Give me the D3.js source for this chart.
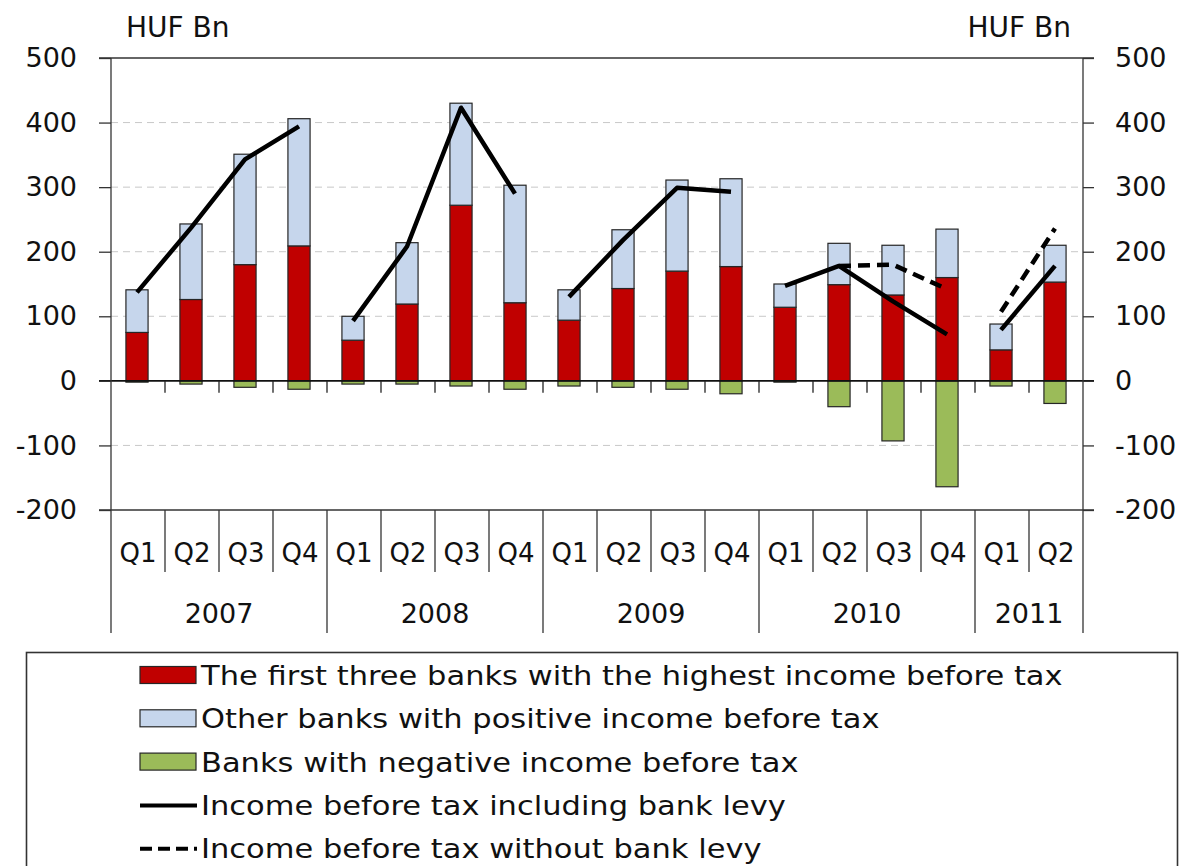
<!DOCTYPE html>
<html>
<head>
<meta charset="utf-8">
<script src="https://cdn.jsdelivr.net/npm/d3@7"></script>
<style>
  html, body { margin: 0; padding: 0; background: #fff; }
  svg { display: block; font-family: "DejaVu Sans", Verdana, sans-serif; }
</style>
</head>
<body>
<svg id="chart" width="1184" height="866"></svg>
<script>
// Quarterly income before tax of the banking sector, HUF Bn
const years = ["2007", "2008", "2009", "2010", "2011"];
const quarterYear = ["2007","2007","2007","2007","2008","2008","2008","2008",
                     "2009","2009","2009","2009","2010","2010","2010","2010",
                     "2011","2011"];
const quarterLabel = ["Q1","Q2","Q3","Q4","Q1","Q2","Q3","Q4",
                      "Q1","Q2","Q3","Q4","Q1","Q2","Q3","Q4",
                      "Q1","Q2"];

// Stacked bar components
const topThreeBanks   = [75, 126, 180, 209,  63, 119, 272, 121,  94, 143, 170, 177, 114, 149, 133, 160,  48, 153];
const otherPositive   = [66, 117, 171, 197,  37,  95, 158, 182,  47,  91, 141, 136,  36,  64,  77,  75,  40,  57];
const negativeBanks   = [-2,  -5, -10, -13,  -5,  -5,  -8, -13,  -8, -10, -13, -20,  -2, -40, -93, -164, -8, -35];

// Lines (drawn per year)
const incomeWithLevy    = [137, 237, 343, 394,  93, 208, 423, 290, 130, 218, 299, 293, 147, 178, 123,  72,  79, 178];
const incomeWithoutLevy = [null, null, null, null, null, null, null, null, null, null, null, null, null, 178, 180, 142, 107, 236];

const yTicks = [-200, -100, 0, 100, 200, 300, 400, 500];
const unitLabel = "HUF Bn";

const legendItems = [
  { type: "rect", fill: "#C00000", label: "The first three banks with the highest income before tax" },
  { type: "rect", fill: "#C6D6EC", label: "Other banks with positive income before tax" },
  { type: "rect", fill: "#9BBB59", label: "Banks with negative income before tax" },
  { type: "line", dash: null,   label: "Income before tax including bank levy" },
  { type: "line", dash: "12,6", label: "Income before tax without bank levy" }
];

const colors = { top: "#C00000", other: "#C6D6EC", neg: "#9BBB59" };
const fontSize = 27;
const legendStretch = 1.13;   // wider lettering in the legend

const svg = d3.select("#chart");
const left = 111, right = 1083;
const idx = d3.range(quarterLabel.length);

const x = d3.scaleBand().domain(idx).range([left, right]).padding(0);
const y = d3.scaleLinear().domain([-200, 500]).range([510, 58]);
const barW = x.bandwidth() * 0.41;
const barX = i => x(i) + (x.bandwidth() - barW) / 2 - 1;
const cx = i => x(i) + x.bandwidth() / 2 - 1;

// Dashed gridlines
svg.append("g").selectAll("line")
  .data(yTicks.filter(t => t !== 0 && t !== 500 && t !== -200))
  .join("line")
  .attr("x1", left).attr("x2", right)
  .attr("y1", d => y(d)).attr("y2", d => y(d))
  .attr("stroke", "#c8c8c8").attr("stroke-width", 1)
  .attr("stroke-dasharray", "7,5");

// Bars
const bars = svg.append("g").attr("stroke", "#262626").attr("stroke-width", 1.2);
bars.selectAll("rect.top").data(idx).join("rect")
  .attr("x", barX).attr("width", barW)
  .attr("y", i => y(topThreeBanks[i])).attr("height", i => y(0) - y(topThreeBanks[i]))
  .attr("fill", colors.top);
bars.selectAll("rect.other").data(idx).join("rect")
  .attr("x", barX).attr("width", barW)
  .attr("y", i => y(topThreeBanks[i] + otherPositive[i]))
  .attr("height", i => y(topThreeBanks[i]) - y(topThreeBanks[i] + otherPositive[i]))
  .attr("fill", colors.other);
bars.selectAll("rect.neg").data(idx).join("rect")
  .attr("x", barX).attr("width", barW)
  .attr("y", y(0)).attr("height", i => y(negativeBanks[i]) - y(0))
  .attr("fill", colors.neg);

// Frame lines: top, zero and bottom
[500, 0, -200].forEach(v => {
  svg.append("line")
    .attr("x1", left - 12).attr("x2", right + 11)
    .attr("y1", y(v)).attr("y2", y(v))
    .attr("stroke", v === 0 ? "#111" : "#333").attr("stroke-width", v === 0 ? 1.6 : 1.3);
});

// Small ticks below the zero line
svg.append("g").selectAll("line")
  .data(d3.range(1, idx.length))
  .join("line")
  .attr("x1", i => left + i * x.step()).attr("x2", i => left + i * x.step())
  .attr("y1", y(0)).attr("y2", y(0) + 12)
  .attr("stroke", "#222").attr("stroke-width", 1.3);

// Income lines, broken between years
const line = d3.line().x(d => cx(d.i)).y(d => y(d.v));
function drawSeries(values, dash) {
  const pts = idx.filter(i => values[i] != null).map(i => ({ i, v: values[i], yr: quarterYear[i] }));
  d3.groups(pts, d => d.yr).forEach(([, g]) => {
    svg.append("path")
      .attr("d", line(g))
      .attr("fill", "none")
      .attr("stroke", "#000")
      .attr("stroke-width", 4.5)
      .attr("stroke-linejoin", "round")
      .attr("stroke-dasharray", dash);
  });
}
drawSeries(incomeWithoutLevy, "12,7");
drawSeries(incomeWithLevy, null);

// Y axes
const fmt = d => String(d);
const yAxisL = svg.append("g").attr("transform", `translate(${left},0)`)
  .call(d3.axisLeft(y).tickValues(yTicks).tickSize(12).tickPadding(22).tickFormat(fmt));
const yAxisR = svg.append("g").attr("transform", `translate(${right},0)`)
  .call(d3.axisRight(y).tickValues(yTicks).tickSize(11).tickPadding(21).tickFormat(fmt));
[yAxisL, yAxisR].forEach(a => {
  a.select(".domain").remove();
  a.selectAll(".tick line").attr("stroke", "#333").attr("stroke-width", 1.3);
  a.selectAll(".tick text").attr("font-size", fontSize).attr("fill", "#111")
    .attr("font-family", '"DejaVu Sans", sans-serif');
});

// Vertical axis lines continuing down through the category labels
[left, right].forEach(xx => {
  svg.append("line").attr("x1", xx).attr("x2", xx)
    .attr("y1", y(500)).attr("y2", 633)
    .attr("stroke", "#333").attr("stroke-width", 1.3);
});

// Category separators
const yearStarts = years.map(yr => quarterYear.indexOf(yr)).concat([quarterYear.length]);
svg.append("g").selectAll("line")
  .data(d3.range(1, idx.length))
  .join("line")
  .attr("x1", i => left + i * x.step()).attr("x2", i => left + i * x.step())
  .attr("y1", y(-200))
  .attr("y2", i => yearStarts.includes(i) ? 633 : 572)
  .attr("stroke", "#333").attr("stroke-width", 1.3);

// Quarter labels
svg.append("g").selectAll("text")
  .data(idx).join("text")
  .attr("x", i => x(i) + x.bandwidth() / 2).attr("y", 562)
  .attr("text-anchor", "middle").attr("font-size", fontSize - 1).attr("fill", "#111")
  .text(i => quarterLabel[i]);

// Year labels
svg.append("g").selectAll("text")
  .data(years).join("text")
  .attr("x", (yr, k) => (x(yearStarts[k]) + left + yearStarts[k + 1] * x.step()) / 2)
  .attr("y", 623)
  .attr("text-anchor", "middle").attr("font-size", fontSize).attr("fill", "#111")
  .text(d => d);

// Unit labels
svg.append("text").attr("x", 126).attr("y", 37).attr("font-size", fontSize + 1).attr("fill", "#111").text(unitLabel);
svg.append("text").attr("x", 1071).attr("y", 37).attr("text-anchor", "end").attr("font-size", fontSize + 1).attr("fill", "#111").text(unitLabel);

// Legend
svg.append("rect").attr("x", 26.5).attr("y", 652.5).attr("width", 1151).attr("height", 240)
  .attr("fill", "#fff").attr("stroke", "#333").attr("stroke-width", 1.6);
const lg = svg.append("g");
legendItems.forEach((d, k) => {
  const base = 685 + k * 43.3;
  if (d.type === "rect") {
    lg.append("rect").attr("x", 140).attr("y", base - 18.5).attr("width", 56).attr("height", 17)
      .attr("fill", d.fill).attr("stroke", "#262626").attr("stroke-width", 1.2);
  } else {
    lg.append("line").attr("x1", 140).attr("x2", 197).attr("y1", base - 9.5).attr("y2", base - 9.5)
      .attr("stroke", "#000").attr("stroke-width", 4).attr("stroke-dasharray", d.dash);
  }
  lg.append("text")
    .attr("transform", `translate(201,${base}) scale(${legendStretch},1)`)
    .attr("font-size", fontSize).attr("fill", "#111").text(d.label);
});
</script>
</body>
</html>
